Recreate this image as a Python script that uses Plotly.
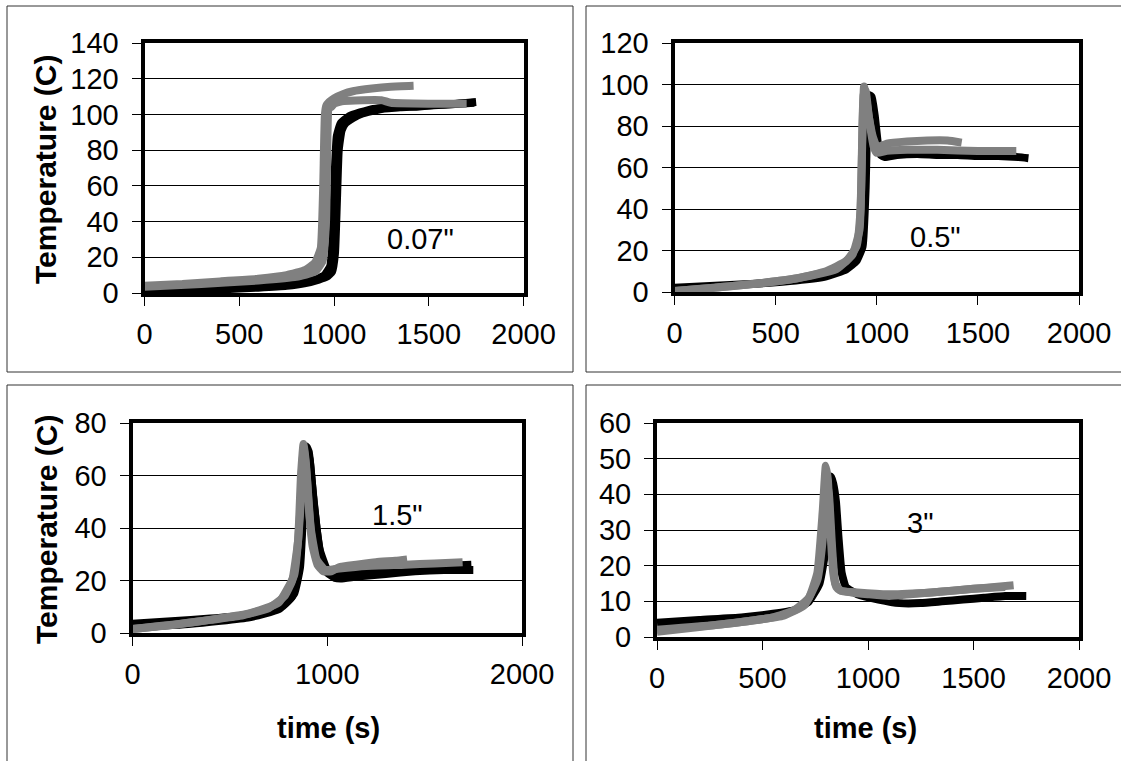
import plotly.graph_objects as go

W, H = 1121, 761
FONT = "Liberation Sans, Arial, sans-serif"

# ---------------- data (time s, temperature C) ----------------
# Panel 0.07"
a_black1_t = [0, 200, 400, 600, 750, 850, 920, 960, 990, 1005, 1015, 1025, 1040, 1060, 1100, 1150, 1250, 1350, 1450, 1550, 1650, 1750]
a_black1_T = [1, 1.5, 2, 3, 4, 5.5, 7.5, 9, 12, 22, 50, 80, 91, 95, 98, 100.5, 103, 104, 104.5, 105.5, 106, 107]
a_black2_t = [0, 300, 600, 800, 900, 950, 980, 995, 1005, 1015, 1035, 1080, 1200, 1400, 1600, 1740]
a_black2_T = [2, 2.5, 4, 5.5, 7.5, 10, 15, 35, 70, 88, 95, 99, 103, 104.5, 105.5, 106.5]
a_gray1_t = [0, 200, 400, 600, 750, 850, 900, 930, 943, 952, 960, 975, 1000, 1050, 1100, 1200, 1300, 1420]
a_gray1_T = [4, 5, 6.5, 8, 10, 13, 17, 25, 60, 100, 105, 107, 109, 111.5, 113, 114.5, 115.5, 116]
a_gray2_t = [0, 300, 600, 800, 900, 940, 958, 966, 972, 985, 1000, 1050, 1150, 1250, 1300, 1500, 1700]
a_gray2_T = [3.5, 5, 7, 9, 12, 18, 40, 90, 105, 104, 106, 107.5, 108, 108, 106.5, 106, 106]

# Panel 0.5"
b_black1_t = [0, 200, 400, 600, 750, 850, 900, 930, 945, 955, 962, 975, 990, 1005, 1020, 1040, 1100, 1200, 1300, 1400, 1500, 1600, 1700, 1750]
b_black1_T = [2, 3, 4, 5.5, 7.5, 11, 15, 22, 50, 90, 95, 94, 85, 72, 66, 65, 66, 66.5, 66, 66, 65.5, 65.5, 65, 64.5]
b_gray1_t = [0, 200, 400, 600, 750, 850, 900, 920, 930, 937, 945, 960, 980, 1000, 1010, 1050, 1150, 1250, 1350, 1420]
b_gray1_T = [0.5, 2, 4, 6.5, 10, 15, 22, 40, 80, 99, 95, 85, 75, 70, 70, 71.5, 72.5, 73, 73, 72]
b_gray2_t = [0, 300, 600, 800, 880, 915, 925, 935, 945, 960, 985, 1000, 1050, 1150, 1300, 1500, 1690]
b_gray2_T = [0.5, 3, 6.5, 11, 18, 30, 60, 95, 97, 85, 70, 67, 68, 68.5, 68.5, 68, 68]

# Panel 1.5"
c_black1_t = [0, 200, 400, 550, 700, 780, 830, 860, 875, 885, 893, 905, 920, 945, 970, 1000, 1040, 1070, 1150, 1300, 1450, 1600, 1750]
c_black1_T = [3.5, 4.5, 5.5, 6.5, 8.5, 11, 15, 25, 45, 65, 71, 69, 58, 40, 28, 23, 21, 20.8, 21.5, 22.5, 23.5, 24, 24]
c_black2_t = [0, 300, 600, 750, 820, 860, 880, 895, 910, 930, 960, 1000, 1050, 1200, 1400, 1600, 1740]
c_black2_T = [2, 3.5, 6, 9, 14, 30, 60, 70, 66, 50, 32, 24, 22, 23, 24.5, 25.5, 26]
c_gray1_t = [0, 200, 400, 550, 700, 780, 820, 850, 865, 878, 890, 905, 925, 950, 980, 1020, 1060, 1150, 1250, 1350, 1410]
c_gray1_T = [1.5, 3, 5, 6.5, 9.5, 14, 20, 35, 60, 72, 65, 48, 33, 26, 23.5, 23.5, 25, 26, 27, 27.5, 28]
c_gray2_t = [0, 300, 600, 750, 830, 860, 872, 880, 895, 915, 945, 990, 1050, 1200, 1400, 1550, 1695]
c_gray2_T = [1.5, 4, 7.5, 11.5, 22, 45, 65, 70, 60, 40, 28, 24, 24.5, 25.5, 26, 26.5, 27]

# Panel 3"
d_black1_t = [0, 200, 400, 550, 650, 720, 770, 800, 815, 825, 835, 848, 860, 875, 895, 950, 1050, 1150, 1250, 1350, 1450, 1550, 1650, 1750]
d_black1_T = [4, 4.8, 5.5, 6.5, 7.5, 10, 15, 25, 38, 45, 43, 38, 28, 18, 14, 12, 10.5, 9.5, 9.5, 10, 10.5, 11, 11.5, 11.5]
d_gray1_t = [0, 200, 400, 550, 650, 720, 760, 785, 800, 810, 820, 835, 850, 870, 920, 1000, 1100, 1200, 1300, 1400, 1500, 1600, 1690]
d_gray1_T = [1.5, 2.8, 4.2, 5.5, 7.5, 11, 18, 35, 48, 44, 32, 18, 14, 13, 12.5, 12, 11.5, 12, 12.5, 13, 13.5, 14, 14.5]
d_gray2_t = [0, 300, 600, 700, 760, 790, 805, 815, 830, 845, 870, 950, 1100, 1300, 1500, 1650]
d_gray2_T = [2, 3.5, 6, 9, 16, 30, 43, 40, 25, 15, 13, 12.5, 12, 12.5, 13.5, 14]

panel_labels = ['0.07"', '0.5"', '1.5"', '3"']
label_pos_t = [1454, 1288, 1363, 1246]
label_pos_T = [30, 26.5, 45, 32]

y_ranges = [[0, 140], [0, 120], [0, 80], [0, 60]]
y_dticks = [20, 20, 20, 10]
x_dticks = [500, 500, 1000, 500]

# ---------------- layout geometry (pixels) ----------------
def px(x):
    return x / W

def py(y):
    return 1 - y / H

plot_boxes = [  # left, right, top, bottom
    (144.5, 523.5, 43, 293),
    (674.5, 1079, 43, 292),
    (132.5, 522, 423, 633),
    (657, 1079, 423, 637),
]
frames = [(7, 573, 6, 372), (586, 1130, 6, 372), (7, 573, 385, 770), (586, 1130, 385, 770)]

BLACK = "#000000"
GRAY = "#808080"
LW = 8
FS = 29
FS_TITLE = 30

series = [
    [(a_black1_t, a_black1_T, BLACK), (a_black2_t, a_black2_T, BLACK), (a_gray2_t, a_gray2_T, GRAY), (a_gray1_t, a_gray1_T, GRAY)],
    [(b_black1_t, b_black1_T, BLACK), (b_gray2_t, b_gray2_T, GRAY), (b_gray1_t, b_gray1_T, GRAY)],
    [(c_black1_t, c_black1_T, BLACK), (c_black2_t, c_black2_T, BLACK), (c_gray2_t, c_gray2_T, GRAY), (c_gray1_t, c_gray1_T, GRAY)],
    [(d_black1_t, d_black1_T, BLACK), (d_gray2_t, d_gray2_T, GRAY), (d_gray1_t, d_gray1_T, GRAY)],
]

fig = go.Figure()
layout = dict(
    template="none",
    width=W, height=H, margin=dict(l=0, r=0, t=0, b=0, pad=0), autosize=False,
    paper_bgcolor="white", plot_bgcolor="white", showlegend=False,
    font=dict(family=FONT, size=FS, color="black"),
)
shapes = []
annotations = []

for i in range(4):
    n = "" if i == 0 else str(i + 1)
    xa, ya = "x" + n, "y" + n
    l, r, t, b = plot_boxes[i]
    for (tt, TT, col) in series[i]:
        fig.add_trace(go.Scatter(x=tt, y=TT, mode="lines", xaxis=xa, yaxis=ya,
                                 line=dict(color=col, width=LW, shape="spline", smoothing=0.4),
                                 hoverinfo="skip"))
    layout["xaxis" + n] = dict(
        domain=[px(l), px(r)], anchor=ya, range=[0, 2000], dtick=x_dticks[i], tick0=0,
        automargin=False,
        showgrid=False, zeroline=False, showline=True, mirror=True, linewidth=4, linecolor="black",
        ticks="outside", ticklen=9, tickwidth=1, tickcolor="black",
        ticklabelstandoff=3, tickfont=dict(size=FS, family=FONT),
    )
    layout["yaxis" + n] = dict(
        domain=[py(b), py(t)], anchor=xa, range=y_ranges[i], dtick=y_dticks[i], tick0=0,
        automargin=False,
        showgrid=True, gridcolor="black", gridwidth=1, zeroline=False,
        showline=True, mirror=True, linewidth=4, linecolor="black",
        ticks="outside", ticklen=9, tickwidth=1, tickcolor="black",
        ticklabelstandoff=7, tickfont=dict(size=FS, family=FONT),
    )
    annotations.append(dict(x=label_pos_t[i], y=label_pos_T[i], xref=xa, yref=ya,
                            xanchor="center", yanchor="middle",
                            text=panel_labels[i], showarrow=False,
                            font=dict(size=FS, family=FONT, color="black")))
    fl, fr, ft, fb = frames[i]
    shapes.append(dict(type="rect", xref="paper", yref="paper",
                       x0=px(fl), x1=px(fr), y0=py(fb), y1=py(ft),
                       line=dict(color="#333333", width=1), layer="below"))

# axis titles
for (x, y) in [(46, 170), (46, 530)]:
    annotations.append(dict(x=px(x), y=py(y), xref="paper", yref="paper", text="<b>Temperature (C)</b>",
                            xanchor="center", yanchor="middle",
                            textangle=-90, showarrow=False, font=dict(size=FS_TITLE, family=FONT, color="black")))
for (x, y) in [(328, 728), (866, 728)]:
    annotations.append(dict(x=px(x), y=py(y), xref="paper", yref="paper", text="<b>time (s)</b>",
                            xanchor="center", yanchor="middle",
                            showarrow=False, font=dict(size=FS, family=FONT, color="black")))

layout["shapes"] = shapes
layout["annotations"] = annotations
fig.update_layout(**layout)
fig.write_html("out.html")
